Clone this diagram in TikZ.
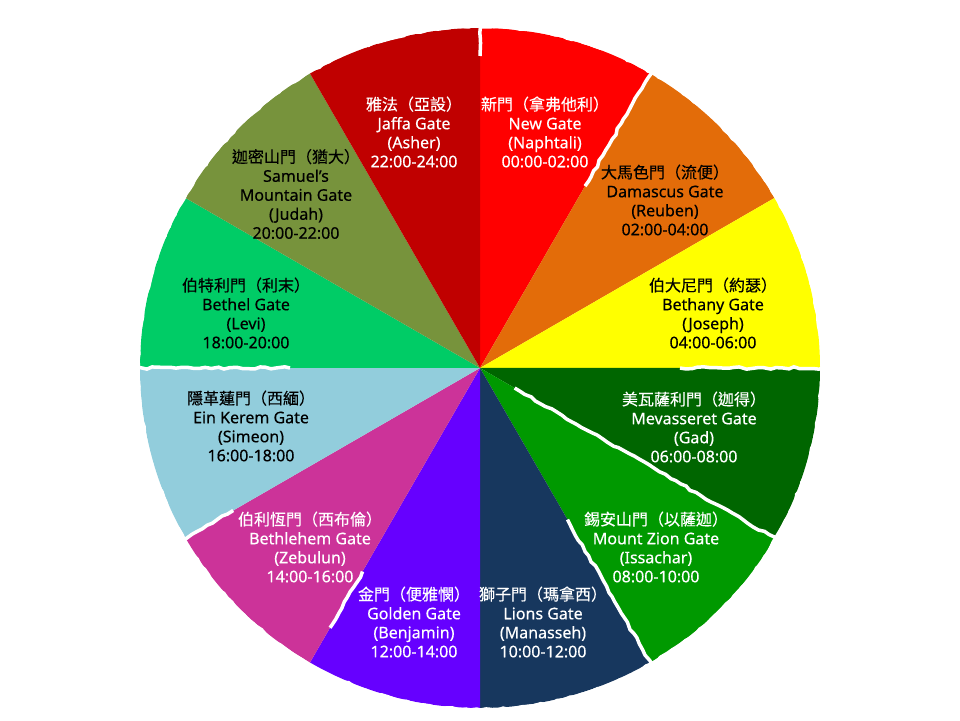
\documentclass[tikz,border=0pt]{standalone}
\usepackage{fontspec}
\usepackage{xcolor}
\setmainfont{Noto Sans}[FakeBold=0.35]
\newfontfamily\cjk{Noto Sans CJK TC}[FakeBold=0.3]
\usetikzlibrary{calc, decorations.pathmorphing}

\definecolor{newred}{RGB}{255,0,0}
\definecolor{jaffared}{RGB}{192,0,0}
\definecolor{judaholive}{RGB}{119,147,60}
\definecolor{levigreen}{RGB}{0,204,102}
\definecolor{simeonblue}{RGB}{146,205,220}
\definecolor{zebmagenta}{RGB}{204,51,153}
\definecolor{benpurple}{RGB}{102,0,255}
\definecolor{mannavy}{RGB}{23,55,94}
\definecolor{issgreen}{RGB}{0,153,0}
\definecolor{gadgreen}{RGB}{0,102,0}
\definecolor{josyellow}{RGB}{255,255,0}
\definecolor{reuorange}{RGB}{227,108,9}

\begin{document}
\begin{tikzpicture}[x=1pt, y=1pt,
        gate/.style={align=center, font=\fontsize{16}{19}\selectfont},
        tear/.style={white, line width=3.5pt, decorate,
            decoration={random steps, segment length=6pt, amplitude=1.2pt}}]
        \pgfmathsetseed{11}
        \useasboundingbox (0,0) rectangle (960,720);
        \coordinate (hub) at (480,352);

        % Sectors
        \foreach \a/\col in {60/newred, 30/reuorange, 0/josyellow, -30/gadgreen,
                -60/issgreen, -90/mannavy, -120/benpurple, -150/zebmagenta,
                -180/simeonblue, -210/levigreen, -240/judaholive, -270/jaffared}
            \fill[\col] (hub) -- ++(\a:340) arc[start angle=\a, end angle=\a+30, radius=340] -- cycle;

        % Torn edges
        \draw[tear] (hub) circle[radius=342];
        \foreach \a/\ra/\rb in {90/312/350, 60/210/350, 0/200/345, -30/40/345,
                -60/175/350, 180/190/350, 210/285/350, 240/235/300}
            \draw[tear] ($(hub)+(\a:\ra)$) -- ($(hub)+(\a:\rb)$);

        % Labels
        \node[gate, text=white] (newgate) at (545,588) {{\cjk 新門（拿弗他利）}\\New Gate\\(Naphtali)\\00:00-02:00};
        \node[gate, text=black] (damascus) at (665,520) {{\cjk 大馬色門（流便）}\\Damascus Gate\\(Reuben)\\02:00-04:00};
        \node[gate, text=black] (bethany) at (713,407) {{\cjk 伯大尼門（約瑟）}\\Bethany Gate\\(Joseph)\\04:00-06:00};
        \node[gate, text=white] (mevasseret) at (694,293) {{\cjk 美瓦薩利門（迦得）}\\Mevasseret Gate\\(Gad)\\06:00-08:00};
        \node[gate, text=white] (mountzion) at (656,173) {{\cjk 錫安山門（以薩迦）}\\Mount Zion Gate\\(Issachar)\\08:00-10:00};
        \node[gate, text=white] (lions) at (543,98) {{\cjk 獅子門（瑪拿西）}\\Lions Gate\\(Manasseh)\\10:00-12:00};
        \node[gate, text=white] (golden) at (414,98) {{\cjk 金門（便雅憫）}\\Golden Gate\\(Benjamin)\\12:00-14:00};
        \node[gate, text=white] (bethlehem) at (310,173) {{\cjk 伯利恆門（西布倫）}\\Bethlehem Gate\\(Zebulun)\\14:00-16:00};
        \node[gate, text=black] (einkerem) at (251,294) {{\cjk 隱革蓮門（西緬）}\\Ein Kerem Gate\\(Simeon)\\16:00-18:00};
        \node[gate, text=black] (bethel) at (246,407) {{\cjk 伯特利門（利末）}\\Bethel Gate\\(Levi)\\18:00-20:00};
        \node[gate, text=black] (samuel) at (296,526) {{\cjk 迦密山門（猶大）}\\Samuel's\\Mountain Gate\\(Judah)\\20:00-22:00};
        \node[gate, text=white] (jaffa) at (414,588) {{\cjk 雅法（亞設）}\\Jaffa Gate\\(Asher)\\22:00-24:00};

    \end{tikzpicture}
\end{document}
